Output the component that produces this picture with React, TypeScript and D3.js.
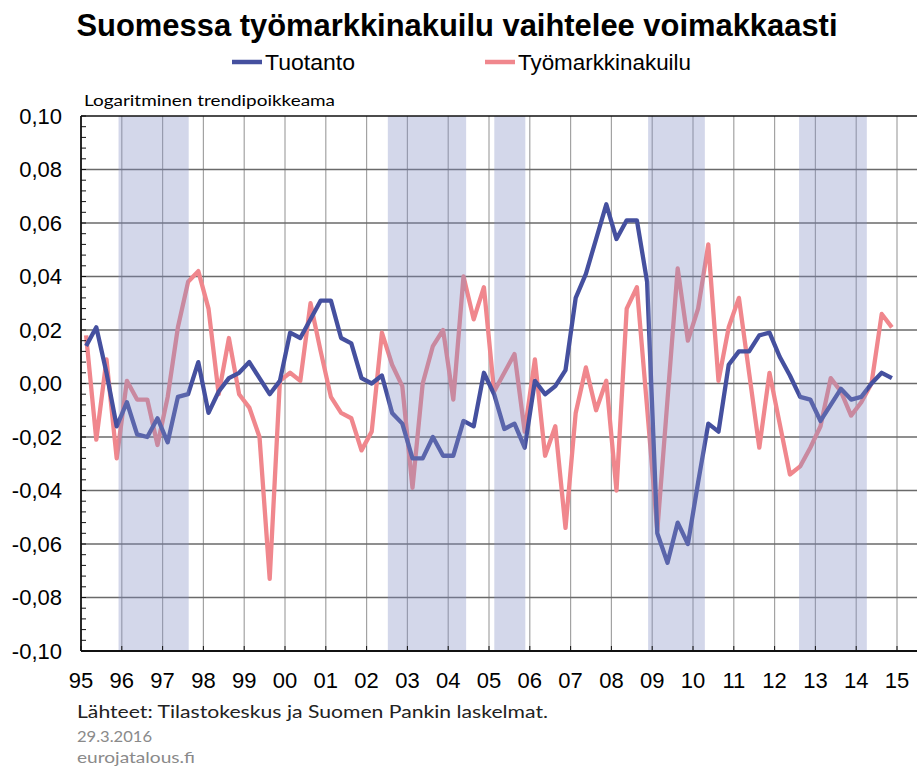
import * as d3 from "d3"

const W = 917
const H = 769

// neljännesvuosittaiset havainnot 1995Q1–2014Q4
const startYear = 1995
const tuotanto = [
  0.014, 0.021, 0.004, -0.016, -0.007, -0.019, -0.020, -0.013, -0.022, -0.005,
  -0.004, 0.008, -0.011, -0.003, 0.002, 0.004, 0.008, 0.002, -0.004, 0.001,
  0.019, 0.017, 0.024, 0.031, 0.031, 0.017, 0.015, 0.002, 0.000, 0.003,
  -0.011, -0.015, -0.028, -0.028, -0.020, -0.027, -0.027, -0.014, -0.016, 0.004,
  -0.004, -0.017, -0.015, -0.024, 0.001, -0.004, -0.001, 0.005, 0.032, 0.041,
  0.054, 0.067, 0.054, 0.061, 0.061, 0.038, -0.056, -0.067, -0.052, -0.060,
  -0.037, -0.015, -0.018, 0.007, 0.012, 0.012, 0.018, 0.019, 0.010, 0.003,
  -0.005, -0.006, -0.014, -0.008, -0.002, -0.006, -0.005, 0.000, 0.004, 0.002,
]
const tyomarkkinakuilu = [
  0.018, -0.021, 0.009, -0.028, 0.001, -0.006, -0.006, -0.023, -0.005, 0.021,
  0.038, 0.042, 0.028, -0.004, 0.017, -0.004, -0.009, -0.020, -0.073, 0.001,
  0.004, 0.001, 0.030, 0.012, -0.005, -0.011, -0.013, -0.025, -0.018, 0.019,
  0.007, -0.001, -0.039, 0.000, 0.014, 0.020, -0.006, 0.040, 0.024, 0.036,
  -0.003, 0.004, 0.011, -0.018, 0.009, -0.027, -0.016, -0.054, -0.011, 0.006,
  -0.010, 0.001, -0.040, 0.028, 0.036, -0.009, -0.055, -0.006, 0.043, 0.016,
  0.028, 0.052, 0.001, 0.021, 0.032, 0.004, -0.024, 0.004, -0.015, -0.034,
  -0.031, -0.024, -0.016, 0.002, -0.003, -0.012, -0.007, 0.000, 0.026, 0.021,
]
// taantumajaksot (varjostus)
const bands: [number, number][] = [
  [1995.92, 1997.64],
  [2002.52, 2004.44],
  [2005.13, 2005.89],
  [2008.9, 2010.29],
  [2012.6, 2014.26],
]
const yearTicks = d3.range(1995, 2016)
const yTicks = [-0.1, -0.08, -0.06, -0.04, -0.02, 0, 0.02, 0.04, 0.06, 0.08, 0.1]

const BLUE = "#45509f"
const PINK = "#f0878d"
const FONT = "'Liberation Sans', Arial, sans-serif"
const SMALL = "Lato, 'Open Sans', sans-serif"

export default function App() {
  const left = 81
  const top = 116
  const bottom = 651
  const right = W

  const x = d3.scaleLinear().domain([1995, 2015]).range([left, 897])
  const y = d3.scaleLinear().domain([-0.1, 0.1]).range([bottom, top])

  const qx = (i: number) => x(startYear + (i + 0.5) / 4)
  const line = d3.line<number>()
    .x((_, i) => qx(i))
    .y(d => y(d))

  const fmt = (v: number) => d3.format(".2f")(v).replace(".", ",").replace("−", "-")
  const minor = d3.range(-0.1, 0.1001, 0.004)

  return (
    <svg width={W} height={H} style={{ position: "absolute", left: 0, top: 0, background: "#fff" }}>
      <text x={457} y={36} textAnchor="middle" fontFamily={FONT} fontWeight="bold" fontSize={31}
        textLength={761} lengthAdjust="spacingAndGlyphs" fill="#000">
        Suomessa työmarkkinakuilu vaihtelee voimakkaasti
      </text>

      {/* selite */}
      <line x1={232} x2={262} y1={62} y2={62} stroke={BLUE} strokeWidth={4.5} />
      <text x={265} y={70} fontFamily={FONT} fontSize={22} textLength={90} lengthAdjust="spacingAndGlyphs">Tuotanto</text>
      <line x1={485} x2={515} y1={62} y2={62} stroke={PINK} strokeWidth={4.5} />
      <text x={518} y={70} fontFamily={FONT} fontSize={22} textLength={173} lengthAdjust="spacingAndGlyphs">Työmarkkinakuilu</text>

      <text x={84} y={106} fontFamily={SMALL} fontSize={15} textLength={251} lengthAdjust="spacingAndGlyphs">Logaritminen trendipoikkeama</text>

      {/* ruudukko */}
      {yearTicks.slice(1).map(t => (
        <line key={"v" + t} x1={x(t)} x2={x(t)} y1={top} y2={bottom} stroke="#a3a3a3" strokeWidth={1.2} />
      ))}
      {yTicks.slice(1, -1).map(t => (
        <line key={"h" + t} x1={left} x2={right} y1={y(t)} y2={y(t)} stroke="#6a6a6a" strokeWidth={1.3} />
      ))}

      {/* sarjat */}
      <path d={line(tyomarkkinakuilu) || ""} fill="none" stroke={PINK} strokeWidth={4.3} strokeLinejoin="round" />
      <path d={line(tuotanto) || ""} fill="none" stroke={BLUE} strokeWidth={4.3} strokeLinejoin="round" />

      {bands.map(([a, b]) => (
        <rect key={a} x={x(a)} y={top} width={x(b) - x(a)} height={bottom - top} fill="rgb(129,141,195)" fillOpacity={0.35} />
      ))}

      {/* akselit */}
      <line x1={left} x2={right} y1={top} y2={top} stroke="#111" strokeWidth={1.5} />
      <line x1={left} x2={right} y1={bottom} y2={bottom} stroke="#111" strokeWidth={1.8} />
      <line x1={left} x2={left} y1={top} y2={bottom} stroke="#111" strokeWidth={1.8} />
      {minor.map(t => (
        <line key={"m" + t} x1={left} x2={left + 5} y1={y(t)} y2={y(t)} stroke="#111" strokeWidth={1} />
      ))}
      {yearTicks.map(t => (
        <line key={"xt" + t} x1={x(t)} x2={x(t)} y1={bottom} y2={bottom - 5} stroke="#111" strokeWidth={1} />
      ))}

      {yTicks.map(t => (
        <text key={"yl" + t} x={62} y={y(t)} dy="0.36em" textAnchor="end" fontFamily={FONT} fontSize={22}>
          {fmt(t)}
        </text>
      ))}
      {yearTicks.map(t => (
        <text key={"xl" + t} x={x(t)} y={688} textAnchor="middle" fontFamily={FONT} fontSize={22}>
          {String(t % 100).padStart(2, "0")}
        </text>
      ))}

      <text x={77} y={718} fontFamily={SMALL} fontSize={18} fill="#222" textLength={471} lengthAdjust="spacingAndGlyphs">
        Lähteet: Tilastokeskus ja Suomen Pankin laskelmat.
      </text>
      <text x={77} y={742} fontFamily={SMALL} fontSize={15} fill="#8a8a8a" textLength={75} lengthAdjust="spacingAndGlyphs">29.3.2016</text>
      <text x={77} y={763} fontFamily={SMALL} fontSize={15} fill="#8a8a8a" textLength={118} lengthAdjust="spacingAndGlyphs">eurojatalous.fi</text>
    </svg>
  )
}
